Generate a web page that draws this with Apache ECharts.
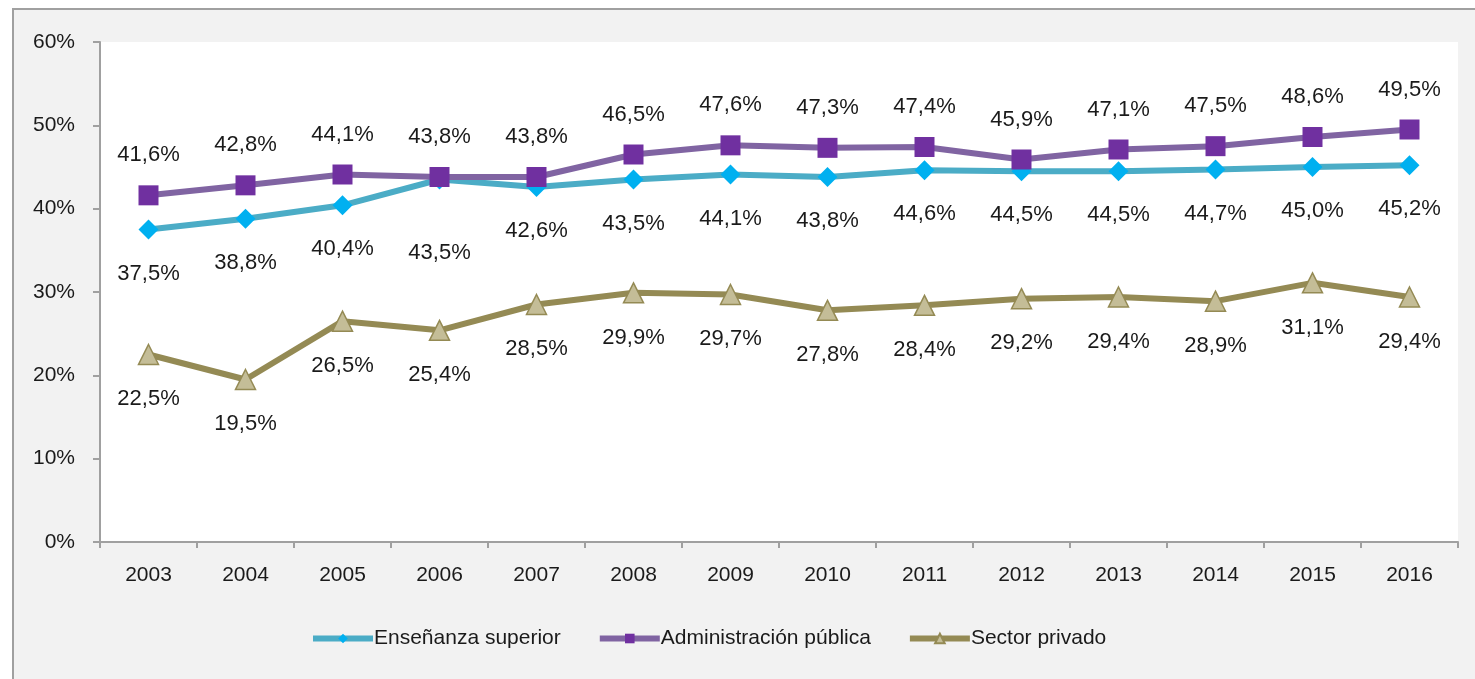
<!DOCTYPE html>
<html><head><meta charset="utf-8">
<script src="https://cdn.jsdelivr.net/npm/echarts@6/dist/echarts.min.js"></script>
<style>html,body{margin:0;padding:0;background:#fff}#c{width:1475px;height:679px}</style>
</head><body><div id="c"></div>
<script>
var years = ['2003','2004','2005','2006','2007','2008','2009','2010','2011','2012','2013','2014','2015','2016'];
var ensenanza = [37.5,38.8,40.4,43.5,42.6,43.5,44.1,43.8,44.6,44.5,44.5,44.7,45.0,45.2];
var administracion = [41.6,42.8,44.1,43.8,43.8,46.5,47.6,47.3,47.4,45.9,47.1,47.5,48.6,49.5];
var privado = [22.5,19.5,26.5,25.4,28.5,29.9,29.7,27.8,28.4,29.2,29.4,28.9,31.1,29.4];
var seriesNames = ['Enseñanza superior','Administración pública','Sector privado'];

var FONT = 'Liberation Sans';
function fmt(p){ return p.value.toFixed(1).replace('.', ',') + '%'; }

var chart = echarts.init(document.getElementById('c'), null, {renderer:'canvas'});
var ensData = ensenanza.map(function(v,i){
  var d = {value:v};
  if (i === 3) d.label = {distance: 52};
  return d;
});
chart.setOption({
  backgroundColor: '#fff',
  animation: false,
  textStyle: {fontFamily: FONT},
  graphic: [{
    type: 'rect', z: -10, left: 12, top: 8,
    shape: {x:0, y:0, width: 1500, height: 700},
    style: {fill: '#f2f2f2', stroke: '#a0a0a0', lineWidth: 2}
  }],
  grid: {left: 100, right: 17, top: 42, bottom: 137, show: true, backgroundColor: '#fff', borderWidth: 0},
  legend: {
    left: 305, top: 623, itemWidth: 60, itemHeight: 12, itemGap: 36,
    lineStyle: {width: 6},
    textStyle: {fontFamily: FONT, fontSize: 21, color: '#1a1a1a', padding: [0,0,0,-4]},
    data: seriesNames
  },
  xAxis: {
    type: 'category', data: years, boundaryGap: true,
    axisLine: {show: true, lineStyle: {color: '#a0a0a0', width: 2}},
    axisTick: {show: true, inside: false, length: 6, lineStyle: {color: '#a0a0a0', width: 2}},
    axisLabel: {color: '#1a1a1a', fontSize: 21, margin: 23, fontFamily: FONT},
    splitLine: {show: false}
  },
  yAxis: {
    type: 'value', min: 0, max: 60, interval: 10,
    axisLine: {show: true, lineStyle: {color: '#a0a0a0', width: 2}},
    axisTick: {show: true, inside: false, length: 7, lineStyle: {color: '#a0a0a0', width: 2}},
    axisLabel: {color: '#1a1a1a', fontSize: 21, margin: 25, fontFamily: FONT, formatter: '{value}%'},
    splitLine: {show: false}
  },
  series: [
    {
      name: seriesNames[0], type: 'line', data: ensData, z: 3,
      symbol: 'diamond', symbolSize: 20, showAllSymbol: true,
      lineStyle: {color: '#4bacc6', width: 6},
      itemStyle: {color: '#00b0f0', borderWidth: 0},
      label: {show: true, position: 'bottom', distance: 23, formatter: fmt, fontSize: 22, color: '#1a1a1a', fontFamily: FONT}
    },
    {
      name: seriesNames[1], type: 'line', data: administracion, z: 4,
      symbol: 'rect', symbolSize: 20, showAllSymbol: true,
      lineStyle: {color: '#8064a2', width: 6},
      itemStyle: {color: '#7030a0', borderWidth: 0},
      label: {show: true, position: 'top', distance: 19, formatter: fmt, fontSize: 22, color: '#1a1a1a', fontFamily: FONT}
    },
    {
      name: seriesNames[2], type: 'line', data: privado, z: 2,
      symbol: 'triangle', symbolSize: 20, showAllSymbol: true,
      lineStyle: {color: '#948a54', width: 6},
      itemStyle: {color: '#c4bd97', borderColor: '#948a54', borderWidth: 1.5},
      label: {show: true, position: 'bottom', distance: 23, formatter: fmt, fontSize: 22, color: '#1a1a1a', fontFamily: FONT}
    }
  ]
});
</script></body></html>
